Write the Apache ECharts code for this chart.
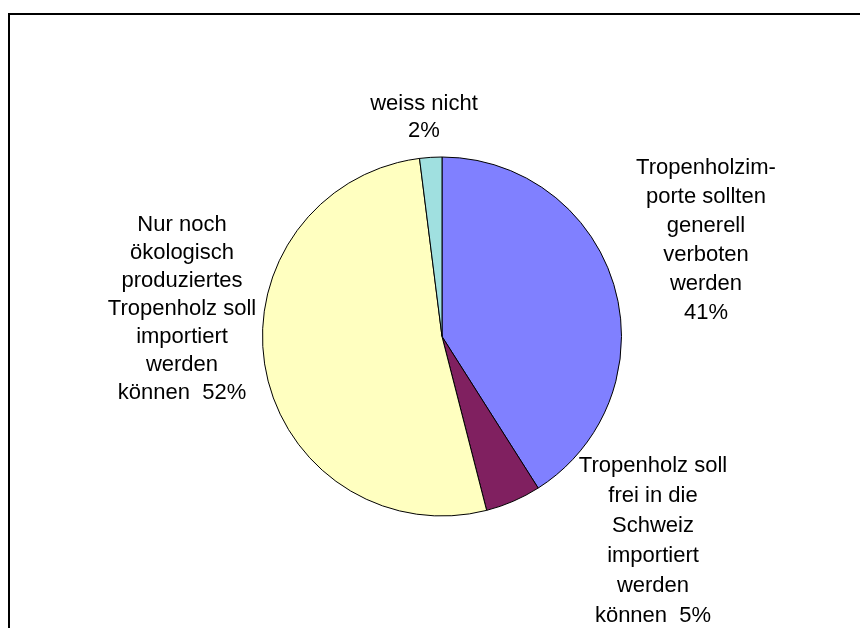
<!DOCTYPE html>
<html>
<head>
<meta charset="utf-8">
<title>Tropenholz</title>
<script src="https://cdn.jsdelivr.net/npm/echarts@6/dist/echarts.min.js"></script>
<style>
  html, body { margin: 0; padding: 0; background: #fff; }
  #chart { width: 860px; height: 628px; }
</style>
</head>
<body>
<div id="chart"></div>
<script>
// Antworten und Anteile (%)
const answers = [
  'Tropenholzim-\nporte sollten\ngenerell\nverboten\nwerden',
  'Tropenholz soll\nfrei in die\nSchweiz\nimportiert\nwerden\nkönnen',
  'Nur noch\nökologisch\nproduziertes\nTropenholz soll\nimportiert\nwerden\nkönnen',
  'weiss nicht'
]
const shares = [41, 5, 52, 2]
// ob der Prozentwert auf einer eigenen Zeile steht
const pctOwnLine = [true, false, false, true]

const sliceColors = ['#8080FF', '#802060', '#FFFFC0', '#A0E0E0']
// Mittelpunkt der Beschriftungen (px)
const labelPos = [[706, 240], [653, 541], [182, 309], [424, 117]]
const labelLineHeight = [29, 30, 28, 27]

const chart = echarts.init(document.getElementById('chart'), null, { renderer: 'canvas' })

let pieData = shares.map((v, i) => {
  return {
    name: answers[i],
    value: v,
    itemStyle: { color: sliceColors[i] },
    label: { lineHeight: labelLineHeight[i] }
  }
})

const option = {
  backgroundColor: '#ffffff',
  animation: false,
  graphic: [{
    type: 'rect',
    shape: { x: 9, y: 14, width: 1000, height: 1000 },
    style: { fill: 'none', stroke: '#000', lineWidth: 2 },
    silent: true
  }],
  series: [{
    type: 'pie',
    center: [442, 336.5],
    radius: [0, 179.5],
    startAngle: 90,
    clockwise: true,
    avoidLabelOverlap: false,
    itemStyle: { borderColor: '#000', borderWidth: 1 },
    emphasis: { disabled: true },
    label: {
      show: true,
      position: 'outside',
      color: '#000',
      fontFamily: '"Liberation Sans", Arial, sans-serif',
      fontSize: 22,
      align: 'center',
      formatter: (p) => {
        let i = p.dataIndex
        return answers[i] + (pctOwnLine[i] ? '\n' : '  ') + p.value + '%'
      }
    },
    labelLine: { show: false },
    labelLayout: (params) => {
      let pos = labelPos[params.dataIndex]
      return {
        x: pos[0],
        y: pos[1],
        align: 'center',
        verticalAlign: 'middle'
      }
    },
    data: pieData
  }]
}

chart.setOption(option)
</script>
</body>
</html>
